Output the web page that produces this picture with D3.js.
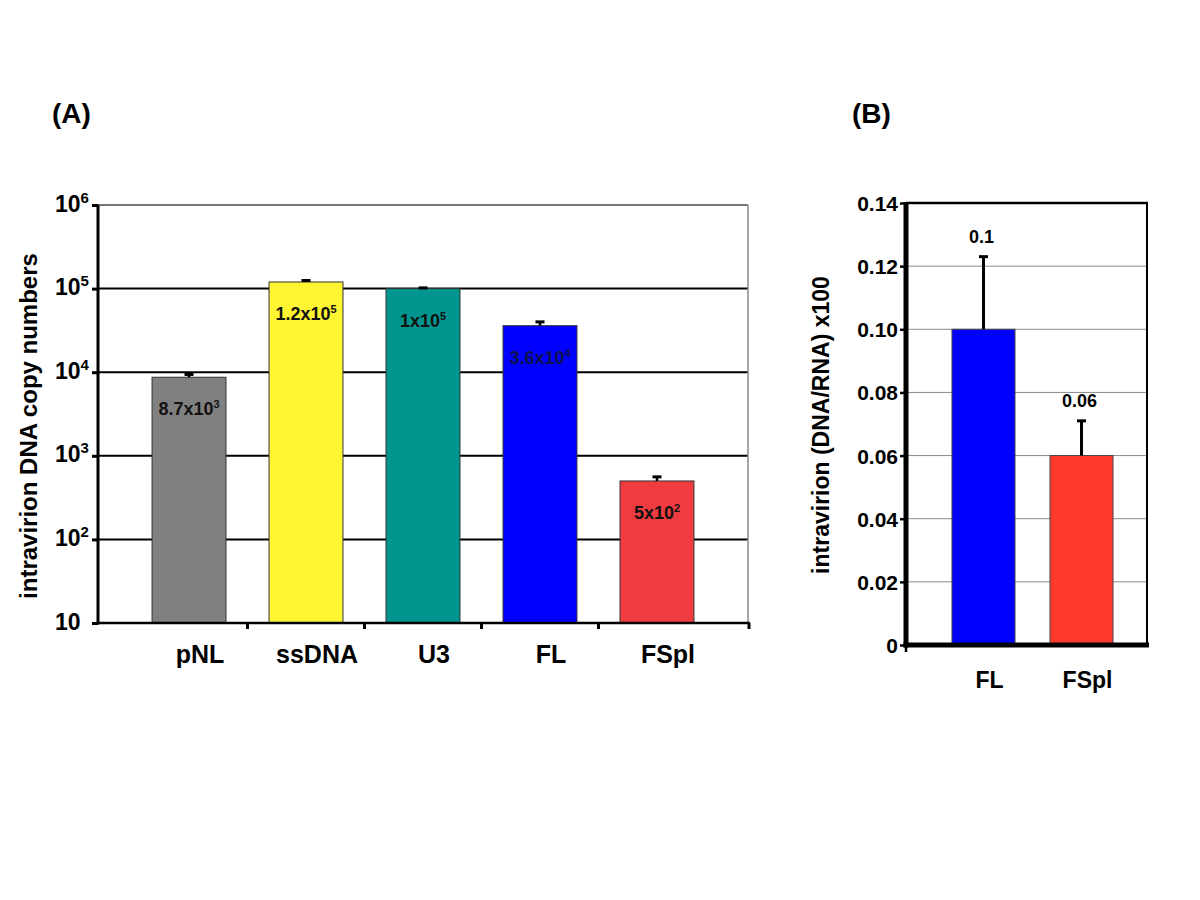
<!DOCTYPE html>
<html>
<head>
<meta charset="utf-8">
<script src="https://cdn.jsdelivr.net/npm/d3@7"></script>
<style>
  html, body { margin: 0; padding: 0; background: #fff; }
  svg { display: block; }
  text { font-family: "Liberation Sans", Arial, sans-serif; font-weight: bold; fill: #000; }
</style>
</head>
<body>
<svg id="chart" width="1200" height="900"></svg>
<script>
// ---------- DATA ----------
// Panel A (log scale copy numbers)
const categoriesA = ["pNL", "ssDNA", "U3", "FL", "FSpl"];
const valuesA = [8.7e3, 1.2e5, 1.0e5, 3.6e4, 5.0e2];
const errorTopA = [9.4e3, 1.25e5, 1.02e5, 4.0e4, 5.6e2];
const labelMantissaA = ["8.7x10", "1.2x10", "1x10", "3.6x10", "5x10"];
const labelExponentA = ["3", "5", "5", "4", "2"];
const colorsA = ["#808080", "#fff533", "#00968f", "#0000ff", "#f03c40"];
const tickValuesA = [10, 1e2, 1e3, 1e4, 1e5, 1e6];
const yTitleA = "intravirion DNA copy numbers";

// Panel B (linear ratio)
const categoriesB = ["FL", "FSpl"];
const valuesB = [0.10, 0.06];
const errorTopB = [0.123, 0.071];
const labelsB = ["0.1", "0.06"];
const colorsB = ["#0000ff", "#ff3a2a"];
const tickValuesB = [0, 0.02, 0.04, 0.06, 0.08, 0.10, 0.12, 0.14];
const yTitleB = "intravirion (DNA/RNA) x100";

const svg = d3.select("#chart");
svg.append("rect").attr("width", 1200).attr("height", 900).attr("fill", "#fff");

// ---------- PANEL A ----------
const A = { left: 98, right: 748, top: 205, bottom: 623 };
const xA = d3.scaleBand().domain(categoriesA).range([A.left, A.right])
  .paddingInner(0.368).paddingOuter(0.462).align(0.5);
const yA = d3.scaleLog().domain([10, 1e6]).range([A.bottom, A.top]);

const gA = svg.append("g");

// gridlines
gA.selectAll("line.grid").data(tickValuesA.filter(v => v > 10 && v < 1e6)).join("line")
  .attr("x1", A.left).attr("x2", A.right)
  .attr("y1", d => yA(d)).attr("y2", d => yA(d))
  .attr("stroke", "#000").attr("stroke-width", 2);
// top border (grey)
gA.append("line").attr("x1", A.left).attr("x2", A.right)
  .attr("y1", yA(1e6)).attr("y2", yA(1e6)).attr("stroke", "#777").attr("stroke-width", 2);
// right border
gA.append("line").attr("x1", A.right).attr("x2", A.right)
  .attr("y1", yA(1e6)).attr("y2", yA(10)).attr("stroke", "#888").attr("stroke-width", 1.5);

// bars
gA.selectAll("rect.bar").data(categoriesA).join("rect")
  .attr("x", d => xA(d)).attr("width", xA.bandwidth())
  .attr("y", (d, i) => yA(valuesA[i]))
  .attr("height", (d, i) => yA(10) - yA(valuesA[i]))
  .attr("fill", (d, i) => colorsA[i])
  .attr("stroke", "#333").attr("stroke-width", 1);

// error bars
categoriesA.forEach((c, i) => {
  const cx = xA(c) + xA.bandwidth() / 2;
  gA.append("line").attr("x1", cx).attr("x2", cx)
    .attr("y1", yA(valuesA[i])).attr("y2", yA(errorTopA[i]))
    .attr("stroke", "#000").attr("stroke-width", 2.5);
  gA.append("line").attr("x1", cx - 4.5).attr("x2", cx + 4.5)
    .attr("y1", yA(errorTopA[i])).attr("y2", yA(errorTopA[i]))
    .attr("stroke", "#000").attr("stroke-width", 3);
});

// bar value labels
categoriesA.forEach((c, i) => {
  const t = gA.append("text")
    .attr("x", xA(c) + xA.bandwidth() / 2)
    .attr("y", yA(valuesA[i]) + 38)
    .attr("text-anchor", "middle")
    .style("font-size", "18px")
    .style("fill", i === 3 ? "#10104a" : "#111");
  t.append("tspan").text(labelMantissaA[i]);
  t.append("tspan").attr("dy", -7).style("font-size", "11px").text(labelExponentA[i]);
});

// left axis
const axisA = d3.axisLeft(yA).tickValues(tickValuesA).tickSize(6).tickFormat(d => d);
const gyA = gA.append("g").attr("transform", `translate(${A.left},0)`).call(axisA);
gyA.select(".domain").remove();
gyA.selectAll(".tick line").attr("stroke", "#000").attr("stroke-width", 3);
gyA.selectAll(".tick text").each(function(d) {
  const t = d3.select(this);
  t.text(null).attr("text-anchor", "start").attr("x", 55 - A.left).attr("dy", null)
    .attr("y", 6).style("font-size", "23px").style("font-family", null);
  const e = Math.round(Math.log10(d));
  t.append("tspan").text("10");
  if (e > 1) t.append("tspan").attr("dy", -9).style("font-size", "15px").text(e);
});
gA.append("line").attr("x1", A.left).attr("x2", A.left)
  .attr("y1", A.top).attr("y2", A.bottom + 1.5).attr("stroke", "#000").attr("stroke-width", 3);

// bottom axis
gA.append("line").attr("x1", A.left).attr("x2", A.right + 2)
  .attr("y1", A.bottom).attr("y2", A.bottom).attr("stroke", "#000").attr("stroke-width", 2.5);
const sepA = categoriesA.slice(1).map((c, i) =>
  (xA(categoriesA[i]) + xA.bandwidth() + xA(c)) / 2).concat([A.right + 1]);
gA.selectAll("line.xtick").data(sepA).join("line")
  .attr("x1", d => d).attr("x2", d => d)
  .attr("y1", A.bottom).attr("y2", A.bottom + 6)
  .attr("stroke", "#000").attr("stroke-width", 3);

// category labels
gA.selectAll("text.cat").data(categoriesA).join("text")
  .attr("x", d => xA(d) + xA.bandwidth() / 2 + 11)
  .attr("y", 663)
  .attr("text-anchor", "middle")
  .style("font-size", "25px")
  .text(d => d);

// y title
gA.append("text")
  .attr("transform", `translate(37,426) rotate(-90)`)
  .attr("text-anchor", "middle")
  .style("font-size", "24px")
  .text(yTitleA);

// panel label
svg.append("text").attr("x", 52).attr("y", 123).style("font-size", "28px").text("(A)");

// ---------- PANEL B ----------
const B = { left: 906, right: 1147, top: 203, bottom: 645 };
const xB = d3.scaleBand().domain(categoriesB).range([B.left, B.right])
  .paddingInner(0.357).paddingOuter(0.408).align(0.575);
const yB = d3.scaleLinear().domain([0, 0.14]).range([B.bottom, B.top]);

const gB = svg.append("g");

gB.selectAll("line.grid").data(tickValuesB.filter(v => v > 0 && v < 0.14)).join("line")
  .attr("x1", B.left).attr("x2", B.right)
  .attr("y1", d => yB(d)).attr("y2", d => yB(d))
  .attr("stroke", "#8a8a8a").attr("stroke-width", 1);
gB.append("line").attr("x1", B.left).attr("x2", B.right + 1)
  .attr("y1", B.top).attr("y2", B.top).attr("stroke", "#000").attr("stroke-width", 2.5);
gB.append("line").attr("x1", B.right).attr("x2", B.right)
  .attr("y1", B.top).attr("y2", B.bottom).attr("stroke", "#000").attr("stroke-width", 2);

gB.selectAll("rect.bar").data(categoriesB).join("rect")
  .attr("x", d => xB(d)).attr("width", xB.bandwidth())
  .attr("y", (d, i) => yB(valuesB[i]))
  .attr("height", (d, i) => yB(0) - yB(valuesB[i]))
  .attr("fill", (d, i) => colorsB[i])
  .attr("stroke", "#444").attr("stroke-width", 1);

categoriesB.forEach((c, i) => {
  const cx = xB(c) + xB.bandwidth() / 2;
  gB.append("line").attr("x1", cx).attr("x2", cx)
    .attr("y1", yB(valuesB[i])).attr("y2", yB(errorTopB[i]))
    .attr("stroke", "#000").attr("stroke-width", 3);
  gB.append("line").attr("x1", cx - 4.5).attr("x2", cx + 4.5)
    .attr("y1", yB(errorTopB[i])).attr("y2", yB(errorTopB[i]))
    .attr("stroke", "#000").attr("stroke-width", 3);
  gB.append("text")
    .attr("x", cx - 2).attr("y", yB(errorTopB[i]) - 14)
    .attr("text-anchor", "middle").style("font-size", "18px")
    .text(labelsB[i]);
});

const axisB = d3.axisLeft(yB).tickValues(tickValuesB).tickSize(6)
  .tickFormat(d => d === 0 ? "0" : d3.format(".2f")(d));
const gyB = gB.append("g").attr("transform", `translate(${B.left},0)`).call(axisB);
gyB.select(".domain").remove();
gyB.selectAll(".tick line").attr("stroke", "#000").attr("stroke-width", 2.5);
gyB.selectAll(".tick text").attr("x", -8).style("font-size", "21px")
  .style("font-family", null).attr("dy", "0.36em");

gB.append("line").attr("x1", B.left).attr("x2", B.left)
  .attr("y1", B.top - 1).attr("y2", B.bottom + 2.5).attr("stroke", "#000").attr("stroke-width", 5);
gB.append("line").attr("x1", B.left - 2.5).attr("x2", B.right + 2)
  .attr("y1", B.bottom).attr("y2", B.bottom).attr("stroke", "#000").attr("stroke-width", 5);
gB.append("line").attr("x1", B.left).attr("x2", B.left)
  .attr("y1", B.bottom).attr("y2", B.bottom + 7).attr("stroke", "#000").attr("stroke-width", 2.5);

gB.selectAll("text.cat").data(categoriesB).join("text")
  .attr("x", d => xB(d) + xB.bandwidth() / 2 + 6)
  .attr("y", 688)
  .attr("text-anchor", "middle")
  .style("font-size", "23px")
  .text(d => d);

gB.append("text")
  .attr("transform", `translate(829,425) rotate(-90)`)
  .attr("text-anchor", "middle")
  .style("font-size", "23px")
  .text(yTitleB);

svg.append("text").attr("x", 852).attr("y", 123).style("font-size", "28px").text("(B)");
</script>
</body>
</html>
